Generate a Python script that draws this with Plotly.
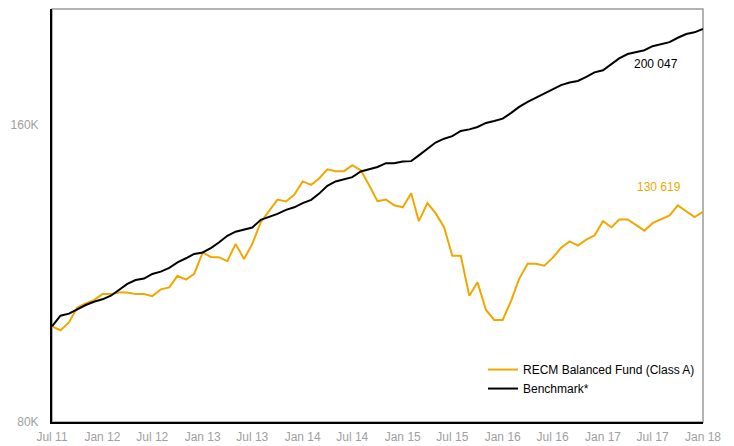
import pandas as pd
import plotly.graph_objects as go

# Monthly values (R thousands), Jul 2011 .. Jan 2018
fund = [100.0, 99.1, 100.9, 104.5, 105.5, 106.3, 107.8, 107.8, 108.2, 108.2,
        107.8, 107.8, 107.3, 109.0, 109.5, 112.5, 111.5, 113.0, 118.8, 117.5,
        117.5, 116.4, 121.2, 117.0, 121.2, 127.5, 131.0, 134.4, 133.8, 135.9,
        140.2, 139.1, 141.1, 144.2, 143.6, 143.6, 145.6, 143.9, 138.9, 133.9,
        134.4, 132.6, 132.0, 136.4, 127.8, 133.3, 130.2, 126.0, 117.9, 117.9,
        107.4, 110.8, 103.9, 101.5, 101.5, 106.2, 111.7, 115.7, 115.7, 115.2,
        117.3, 120.1, 121.9, 120.7, 122.4, 123.6, 127.8, 126.0, 128.3, 128.3,
        126.7, 125.0, 127.2, 128.3, 129.5, 132.6, 130.8, 129.0, 130.619]
benchmark = [100.0, 102.5, 103.0, 104.1, 105.1, 105.9, 106.5, 107.4, 108.8, 110.4,
             111.4, 111.8, 113.0, 113.6, 114.6, 116.1, 117.2, 118.4, 118.8, 120.1,
             121.6, 123.5, 124.7, 125.4, 125.9, 128.2, 129.0, 130.0, 131.2, 132.0,
             133.3, 134.3, 136.2, 138.8, 140.2, 140.9, 141.6, 143.5, 144.2, 145.0,
             146.3, 146.3, 146.9, 147.0, 149.0, 151.3, 153.5, 154.9, 155.8, 157.7,
             158.3, 159.2, 160.7, 161.4, 162.3, 164.5, 166.8, 168.8, 170.5, 172.1,
             173.7, 175.5, 176.6, 177.2, 178.9, 180.8, 181.7, 184.2, 186.8, 188.7,
             189.4, 190.4, 192.2, 193.1, 194.0, 196.0, 197.7, 198.5, 200.047]
months = pd.date_range("2011-07-01", periods=len(fund), freq="MS")

tick_dates = pd.date_range("2011-07-01", "2018-01-01", freq="6MS")
tick_labels = ["Jul 11", "Jan 12", "Jul 12", "Jan 13", "Jul 13", "Jan 14", "Jul 14",
               "Jan 15", "Jul 15", "Jan 16", "Jul 16", "Jan 17", "Jul 17", "Jan 18"]
y_ticks = [80, 160]
y_tick_labels = ["80K", "160K"]

YELLOW = "#F0A800"
FONT = "Liberation Sans, Arial, sans-serif"

fig = go.Figure()
fig.add_trace(go.Scatter(x=months, y=fund, mode="lines", name="RECM Balanced Fund (Class A)",
                         line=dict(color=YELLOW, width=2)))
fig.add_trace(go.Scatter(x=months, y=benchmark, mode="lines", name="Benchmark*",
                         line=dict(color="#000000", width=2)))

def fmt(v):
    return f"{round(v * 1000):,}".replace(",", " ")

fig.add_annotation(xref="paper", yref="paper", x=0.9647, y=0.866, xanchor="right", yanchor="middle",
                   text=fmt(benchmark[-1]), showarrow=False, font=dict(color="#000000", size=12, family=FONT))
fig.add_annotation(xref="paper", yref="paper", x=0.9693, y=0.569, xanchor="right", yanchor="middle",
                   text=fmt(fund[-1]), showarrow=False, font=dict(color=YELLOW, size=12, family=FONT))

# gray frame top/right
fig.add_shape(type="rect", xref="paper", yref="paper", x0=0, x1=1, y0=0, y1=1,
              line=dict(color="#9a9a9a", width=1.5), layer="below")

fig.update_layout(
    width=726, height=438,
    margin=dict(l=44, r=31, t=1, b=24, autoexpand=False),
    paper_bgcolor="white", plot_bgcolor="white",
    font=dict(family=FONT, size=12, color="#a0a0a0"),
    showlegend=True,
    legend=dict(x=0.662, y=0.104, xanchor="left", yanchor="middle",
                bgcolor="rgba(0,0,0,0)", font=dict(color="#000000", size=12, family=FONT),
                tracegroupgap=0, itemwidth=30),
)
fig.update_xaxes(type="date", range=[months[0], months[-1]], showgrid=False, zeroline=False,
                 tickvals=list(tick_dates), ticktext=tick_labels, ticks="", automargin=False,
                 ticklabelstandoff=3,
                 showline=True, linecolor="#000000", linewidth=2,
                 tickfont=dict(color="#a0a0a0", size=12, family=FONT))
fig.update_yaxes(type="log", range=[1.9031, 2.3214], showgrid=False, zeroline=False,
                 tickvals=y_ticks, ticktext=y_tick_labels, automargin=False,
                 ticks="", ticklabelstandoff=9,
                 showline=True, linecolor="#000000", linewidth=2,
                 tickfont=dict(color="#a0a0a0", size=12, family=FONT))

fig.write_html("out.html")
